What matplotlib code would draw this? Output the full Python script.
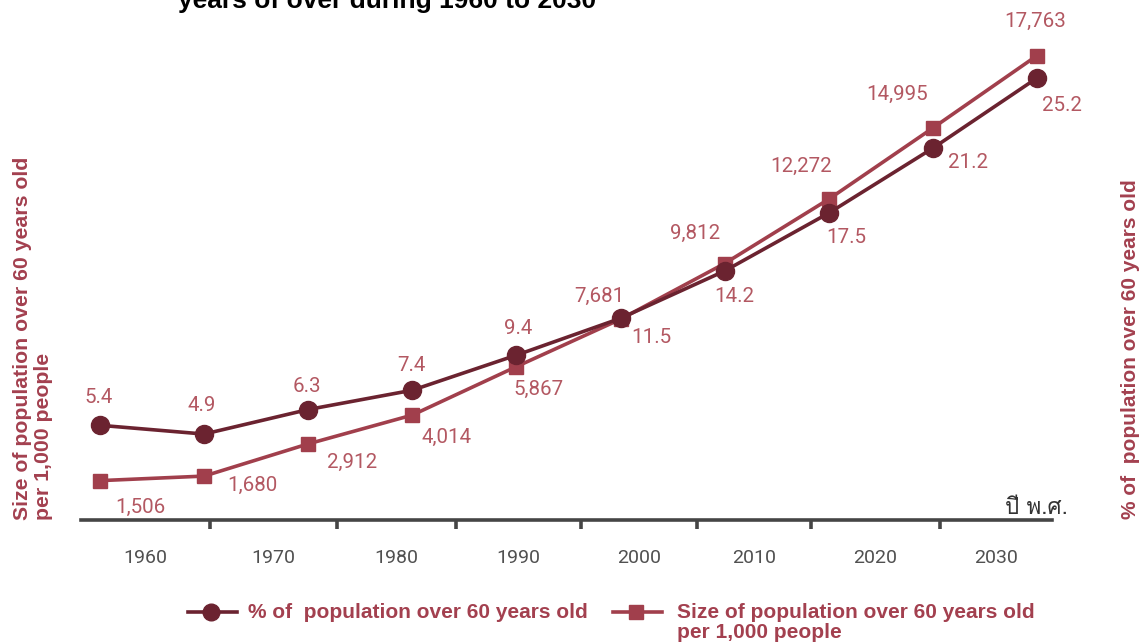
import matplotlib
matplotlib.use("Agg")
import matplotlib.pyplot as plt
from matplotlib import font_manager
from matplotlib.ft2font import FT2Font
from matplotlib.lines import Line2D

# ---- data -------------------------------------------------------------
decades = ["1960", "1970", "1980", "1990", "2000", "2010", "2020", "2030"]
pct_over60 = [5.4, 4.9, 6.3, 7.4, 9.4, 11.5, 14.2, 17.5, 21.2, 25.2]
size_per1000 = [1506, 1680, 2912, 4014, 5867, 7681, 9812, 12272, 14995, 17763]

pct_labels = [f"{v:.1f}" for v in pct_over60]
size_labels = [f"{v:,}" for v in size_per1000]

# ---- style --------------------------------------------------------------
C_PCT = "#6b2330"
C_SIZE = "#a13f4c"
C_LBL = "#b35862"
C_TITLE_AX = "#a3404f"
C_AXIS = "#454545"
BOLD_FAMILY = ["Liberation Sans", "DejaVu Sans"]
LIGHT_FAMILY = ["Roboto", "DejaVu Sans"]


def find_thai_family():
    seen = set()
    for f in font_manager.fontManager.ttflist:
        if f.name in seen:
            continue
        seen.add(f.name)
        try:
            if 0x0E1B in FT2Font(f.fname).get_charmap():
                return f.name
        except Exception:
            pass
    return "DejaVu Sans"


W, H = 1140, 644
fig = plt.figure(figsize=(W / 100, H / 100), dpi=100)


def fx(px):
    return px / W


def fy(py):
    return 1 - py / H


# plot area: x from 81 to 1052 px, y from 40 to 520 px
left, right, top, bottom = 81, 1052, 40, 520
ax = fig.add_axes([fx(left), fy(bottom), fx(right - left), (bottom - top) / H])
axr = ax.twinx()
axc = ax.twiny()

idx = list(range(len(pct_over60)))
xlim = ((left - 100) / 104.1, (right - 100) / 104.1)
for a in (ax, axr):
    a.set_xlim(*xlim)
ax.set_ylim(0, 18363)
axr.set_ylim(0, 27.37)

ax.plot(idx, size_per1000, color=C_SIZE, lw=2.6, marker="s", ms=10,
        mec=C_SIZE, mfc=C_SIZE, solid_joinstyle="round", zorder=3)
axr.plot(idx, pct_over60, color=C_PCT, lw=2.6, marker="o", ms=13,
         mec=C_PCT, mfc=C_PCT, solid_joinstyle="round", zorder=3)

# value labels (offsets in pixels)
size_off = [(40, -27), (48, -9), (44, -19), (34, -22), (22, -23),
            (-21, 23), (-30, 30), (-28, 33), (-36, 34), (-2, 34)]
pct_off = [(-1, 28), (-2, 29), (-1, 23), (-1, 25), (2, 27),
           (31, -19), (10, -26), (18, -24), (35, -14), (25, -27)]
lbl_kw = dict(textcoords="offset pixels", ha="center", va="center",
              fontsize=14.8, color=C_LBL, family=LIGHT_FAMILY, fontweight="normal")
for i, (v, t, o) in enumerate(zip(size_per1000, size_labels, size_off)):
    ax.annotate(t, (i, v), xytext=o, **lbl_kw)
for i, (v, t, o) in enumerate(zip(pct_over60, pct_labels, pct_off)):
    axr.annotate(t, (i, v), xytext=o, **lbl_kw)

for a in (ax, axr):
    a.set_yticks([])
    a.set_xticks([])
    for s in a.spines.values():
        s.set_visible(False)

# category axis along the bottom
axc.set_xlim(0, len(decades))
bounds = [0, 1.063, 2.109, 3.09, 4.12, 5.075, 6.014, 7.077, len(decades)]
centres = [(a + b) / 2 for a, b in zip(bounds[:-1], bounds[1:])]
axc.xaxis.set_ticks_position("bottom")
axc.set_xticks(bounds[1:-1])
axc.set_xticklabels([])
axc.set_xticks(centres, minor=True)
axc.set_xticklabels(decades, minor=True, fontsize=14, color="#505050",
                    family=LIGHT_FAMILY, fontweight="normal")
axc.tick_params(axis="x", which="major", direction="out", length=6.5,
                width=2.6, color=C_AXIS)
axc.tick_params(axis="x", which="minor", length=0, pad=21)
for name, s in axc.spines.items():
    s.set_visible(name == "bottom")
axc.spines["bottom"].set_color(C_AXIS)
axc.spines["bottom"].set_linewidth(2.6)
axc.set_yticks([])

# unit note at the right end of the axis
fig.text(fx(1068), fy(514), "ปี พ.ศ.", ha="right", va="baseline",
         fontsize=16, color="#333333", family=[find_thai_family(), "DejaVu Sans"])

# title line
fig.text(fx(178), fy(8), "years of over during 1960 to 2030", ha="left",
         va="baseline", fontsize=19, fontweight="bold", color="black",
         family=BOLD_FAMILY)

# axis titles
fig.text(fx(13), fy(520), "Size of population over 60 years old\nper 1,000 people",
         rotation=90, ha="left", va="top", rotation_mode="anchor",
         fontsize=15.3, fontweight="bold", color=C_TITLE_AX, family=BOLD_FAMILY,
         linespacing=1.12, multialignment="left")
fig.text(fx(1136), fy(519), "% of  population over 60 years old",
         rotation=90, ha="left", va="baseline", rotation_mode="anchor",
         fontsize=15, fontweight="bold", color=C_TITLE_AX, family=BOLD_FAMILY)

# legend
leg_y = 612
fig.add_artist(Line2D([fx(188), fx(237)], [fy(leg_y), fy(leg_y)],
                      color=C_PCT, lw=2.6, transform=fig.transFigure))
fig.add_artist(Line2D([fx(211)], [fy(leg_y)], marker="o", ms=12,
                      color=C_PCT, transform=fig.transFigure))
fig.text(fx(248), fy(leg_y), "% of  population over 60 years old", ha="left",
         va="center", fontsize=15, fontweight="bold", color=C_TITLE_AX,
         family=BOLD_FAMILY)
fig.add_artist(Line2D([fx(613), fx(662)], [fy(leg_y), fy(leg_y)],
                      color=C_SIZE, lw=2.6, transform=fig.transFigure))
fig.add_artist(Line2D([fx(636)], [fy(leg_y)], marker="s", ms=10,
                      color=C_SIZE, transform=fig.transFigure))
fig.text(fx(677), fy(leg_y - 9), "Size of population over 60 years old\nper 1,000 people",
         ha="left", va="top", fontsize=15, fontweight="bold", color=C_TITLE_AX,
         family=BOLD_FAMILY, linespacing=1.05)

fig.savefig("out.png", dpi=100)
